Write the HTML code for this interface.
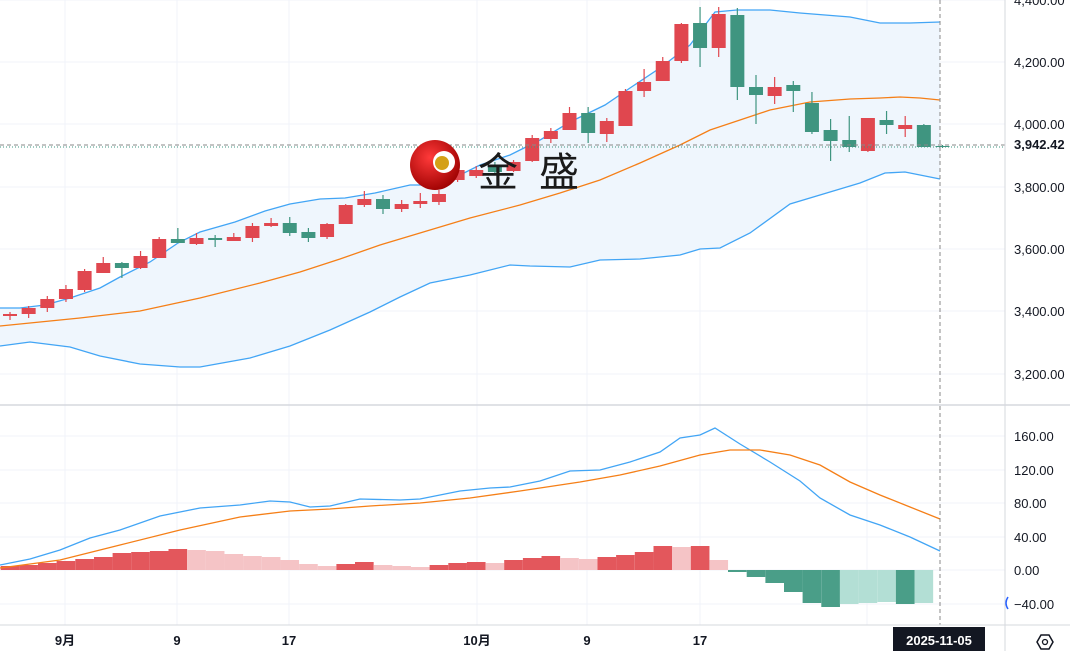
<!DOCTYPE html>
<html><head><meta charset="utf-8"><style>
html,body{margin:0;padding:0;background:#fff;width:1070px;height:651px;overflow:hidden}
svg{display:block;font-family:"Liberation Sans","Noto Sans CJK SC",sans-serif}
</style></head><body>
<svg id="c" width="1070" height="651" xmlns="http://www.w3.org/2000/svg"></svg>
<script>
var s='';
function P(a){return a.map(function(p){return p[0]+','+p[1]}).join(' ');}
[0,62,124,187,249,311,374,436,470,503,537,570,604].forEach(function(y){s+='<line x1="0" x2="1005" y1="'+y+'" y2="'+y+'" stroke="#f0f3fa"/>';});
[65,177,289,477,587,700,867].forEach(function(x){s+='<line x1="'+x+'" x2="'+x+'" y1="0" y2="625" stroke="#f0f3fa"/>';});
var up=[[0,308],[20,308],[45,305],[70,298],[100,288],[120,277],[150,262],[178,243],[200,232],[235,222],[265,211],[290,204],[320,199],[345,198],[375,193],[410,185],[440,185],[480,165],[510,155],[540,140],[570,122],[605,105],[630,88],[660,68],[690,45],[715,12],[737,10],[770,10],[800,13],[850,17],[880,23],[910,23],[940,22]];
var mid=[[0,326],[40,322],[80,318],[140,311],[200,298],[260,283],[300,272],[340,259],[380,245],[420,233],[470,218],[520,205],[560,193],[600,180],[640,163],[680,145],[710,130],[740,120],[770,110],[810,102],[850,99],[880,98],[900,97],[920,98],[940,100]];
var lo=[[0,346],[30,342],[70,347],[100,356],[140,364],[180,367],[200,367],[250,358],[290,346],[330,330],[370,312],[400,297],[430,283],[470,275],[510,265],[530,266],[570,267],[600,260],[640,259],[680,255],[700,249],[720,248],[750,233],[790,204],[830,192],[860,183],[885,173],[905,172],[940,179]];
s+='<polygon points="'+P(up)+' '+P(lo.slice().reverse())+'" fill="#eff6fd"/>';
s+='<polyline points="'+P(up)+'" fill="none" stroke="#42a5f5" stroke-width="1.3"/>';
s+='<polyline points="'+P(lo)+'" fill="none" stroke="#42a5f5" stroke-width="1.3"/>';
s+='<polyline points="'+P(mid)+'" fill="none" stroke="#f57f17" stroke-width="1.3"/>';
var C=[[314,316,312,320,'r'],[308,314,306,318,'r'],[299,308,296,312,'r'],[289,299,285,302,'r'],[271,290,269,292,'r'],[263,273,257,273,'r'],[263,268,262,278,'g'],[256,268,251,269,'r'],[239,258,237,258,'r'],[239,243,228,243,'g'],[238,244,233,245,'r'],[238,240,235,247,'g'],[237,241,233,241,'r'],[226,238,223,242,'r'],[223,226,218,227,'r'],[223,233,217,236,'g'],[232,238,228,242,'g'],[224,237,223,239,'r'],[205,224,204,224,'r'],[199,205,191,207,'r'],[199,209,195,214,'g'],[204,209,200,212,'r'],[201,204,193,208,'r'],[194,202,190,205,'r'],[170,180,166,182,'r'],[170,176,166,178,'r'],[166,172,162,174,'g'],[162,171,160,172,'r'],[138,161,135,162,'r'],[131,139,128,143,'r'],[113,130,107,130,'r'],[113,133,107,143,'g'],[121,134,118,142,'r'],[91,126,89,126,'r'],[82,91,69,97,'r'],[61,81,57,81,'r'],[24,61,23,63,'r'],[23,48,7,67,'g'],[14,48,7,57,'r'],[15,87,8,100,'g'],[87,95,75,124,'g'],[87,96,77,104,'r'],[85,91,81,112,'g'],[103,132,92,134,'g'],[130,141,119,161,'g'],[140,147,116,152,'g'],[118,151,118,152,'r'],[120,125,111,134,'g'],[125,129,116,137,'r'],[125,147,124,147,'g'],[146,147,145,148,'g']];
var H=[[566,'R'],[565,'R'],[563,'R'],[561,'R'],[559,'R'],[557,'R'],[553,'R'],[552,'R'],[551,'R'],[549,'R'],[550,'r'],[551,'r'],[554,'r'],[556,'r'],[557,'r'],[560,'r'],[564,'r'],[566,'r'],[564,'R'],[562,'R'],[565,'r'],[566,'r'],[567,'r'],[565,'R'],[563,'R'],[562,'R'],[563,'r'],[560,'R'],[558,'R'],[556,'R'],[558,'r'],[559,'r'],[557,'R'],[555,'R'],[552,'R'],[546,'R'],[547,'r'],[546,'R'],[560,'r'],[572,'G'],[577,'G'],[583,'G'],[592,'G'],[603,'G'],[607,'G'],[604,'g'],[603,'g'],[602,'g'],[604,'G'],[603,'g'],[603,'g']];
var hc={R:'#e3575c',r:'#f5c4c6',G:'#4a9e88',g:'#b3dfd5'};
H.forEach(function(h,i){var x=10+18.65*i-9.3;var y=h[0];var t=Math.min(y,570),b=Math.max(y,570);
 if(i==50)return;
 s+='<rect x="'+x.toFixed(1)+'" y="'+t+'" width="18.65" height="'+(b-t)+'" fill="'+hc[h[1]]+'"/>';});
C.forEach(function(c,i){var x=10+18.65*i;var col=c[4]=='r'?'#e0474f':'#3f9580';
 s+='<line x1="'+x+'" x2="'+x+'" y1="'+c[2]+'" y2="'+c[3]+'" stroke="'+col+'" stroke-width="1.2"/>';
 s+='<rect x="'+(x-7)+'" y="'+c[0]+'" width="14" height="'+Math.max(1,c[1]-c[0])+'" fill="'+col+'"/>';});
var m=[[0,565],[30,559],[60,550],[90,538],[120,530],[160,516],[200,508],[240,505],[270,501],[290,502],[310,507],[330,506],[360,499],[400,500],[420,499],[460,491],[490,488],[510,487],[540,481],[570,471],[600,470],[630,462],[660,452],[680,438],[700,435],[715,428],[740,444],[770,462],[800,481],[820,498],[850,515],[880,525],[910,537],[940,551]];
var sg=[[0,568],[60,560],[120,545],[180,530],[240,517],[290,511],[330,509],[370,506],[420,503],[470,498],[520,491],[580,482],[620,475],[660,466],[700,455],[730,450],[760,450],[790,455],[820,465],[850,482],[880,495],[910,507],[940,519]];
s+='<polyline points="'+P(m)+'" fill="none" stroke="#42a5f5" stroke-width="1.3"/>';
s+='<polyline points="'+P(sg)+'" fill="none" stroke="#f57f17" stroke-width="1.3"/>';
s+='<line x1="0" x2="1005" y1="145" y2="145" stroke="#888" stroke-dasharray="4,3"/>';
s+='<line x1="0" x2="1005" y1="147" y2="147" stroke="#3f9580" stroke-dasharray="1,2"/>';
s+='<line x1="940" x2="940" y1="0" y2="625" stroke="#888" stroke-dasharray="4,3"/>';
s+='<line x1="0" x2="1070" y1="405" y2="405" stroke="#d6d8de" stroke-width="1.5"/>';
s+='<line x1="0" x2="1070" y1="625" y2="625" stroke="#d6d8de"/>';
s+='<line x1="1005" x2="1005" y1="0" y2="651" stroke="#d6d8de"/>';
[[0,'4,400.00'],[62,'4,200.00'],[124,'4,000.00'],[187,'3,800.00'],[249,'3,600.00'],[311,'3,400.00'],[374,'3,200.00'],[436,'160.00'],[470,'120.00'],[503,'80.00'],[537,'40.00'],[570,'0.00'],[604,'−40.00']].forEach(function(t){
 s+='<text x="1014" y="'+(t[0]+5)+'" font-size="13" fill="#131722">'+t[1]+'</text>';});
s+='<rect x="1006" y="135" width="64" height="19" fill="#fff"/>';
s+='<text x="1014" y="149" font-size="13" font-weight="bold" fill="#131722">3,942.42</text>';
[[65,'9月'],[177,'9'],[289,'17'],[477,'10月'],[587,'9'],[700,'17']].forEach(function(t){
 s+='<text x="'+t[0]+'" y="645" font-size="13" font-weight="bold" fill="#131722" text-anchor="middle">'+t[1]+'</text>';});
s+='<rect x="893" y="627" width="92" height="24" fill="#131722"/>';
s+='<text x="939" y="645" font-size="13" font-weight="bold" fill="#fff" text-anchor="middle">2025-11-05</text>';
s+='<polygon points="1037,642 1041,635 1049,635 1053,642 1049,649 1041,649" fill="none" stroke="#131722" stroke-width="1.5"/><circle cx="1045" cy="642" r="2.5" fill="none" stroke="#131722" stroke-width="1.3"/>';
s+='<path d="M1008,597 q-4,6 0,12" fill="none" stroke="#2962ff" stroke-width="1.5"/>';
s+='<defs><radialGradient id="lg" cx="0.4" cy="0.35" r="0.7"><stop offset="0" stop-color="#ff3a3a"/><stop offset="1" stop-color="#9c0000"/></radialGradient></defs>';
s+='<circle cx="435" cy="165" r="25" fill="url(#lg)"/><circle cx="444" cy="162" r="11" fill="#fff"/><circle cx="442" cy="163" r="7" fill="#d4a017"/>';
s+='<text x="478" y="186" font-size="40" letter-spacing="6" fill="#1a1a1a" font-family="Noto Sans CJK SC,sans-serif">金 盛</text>';
document.getElementById('c').innerHTML=s;
</script>
</body></html>
